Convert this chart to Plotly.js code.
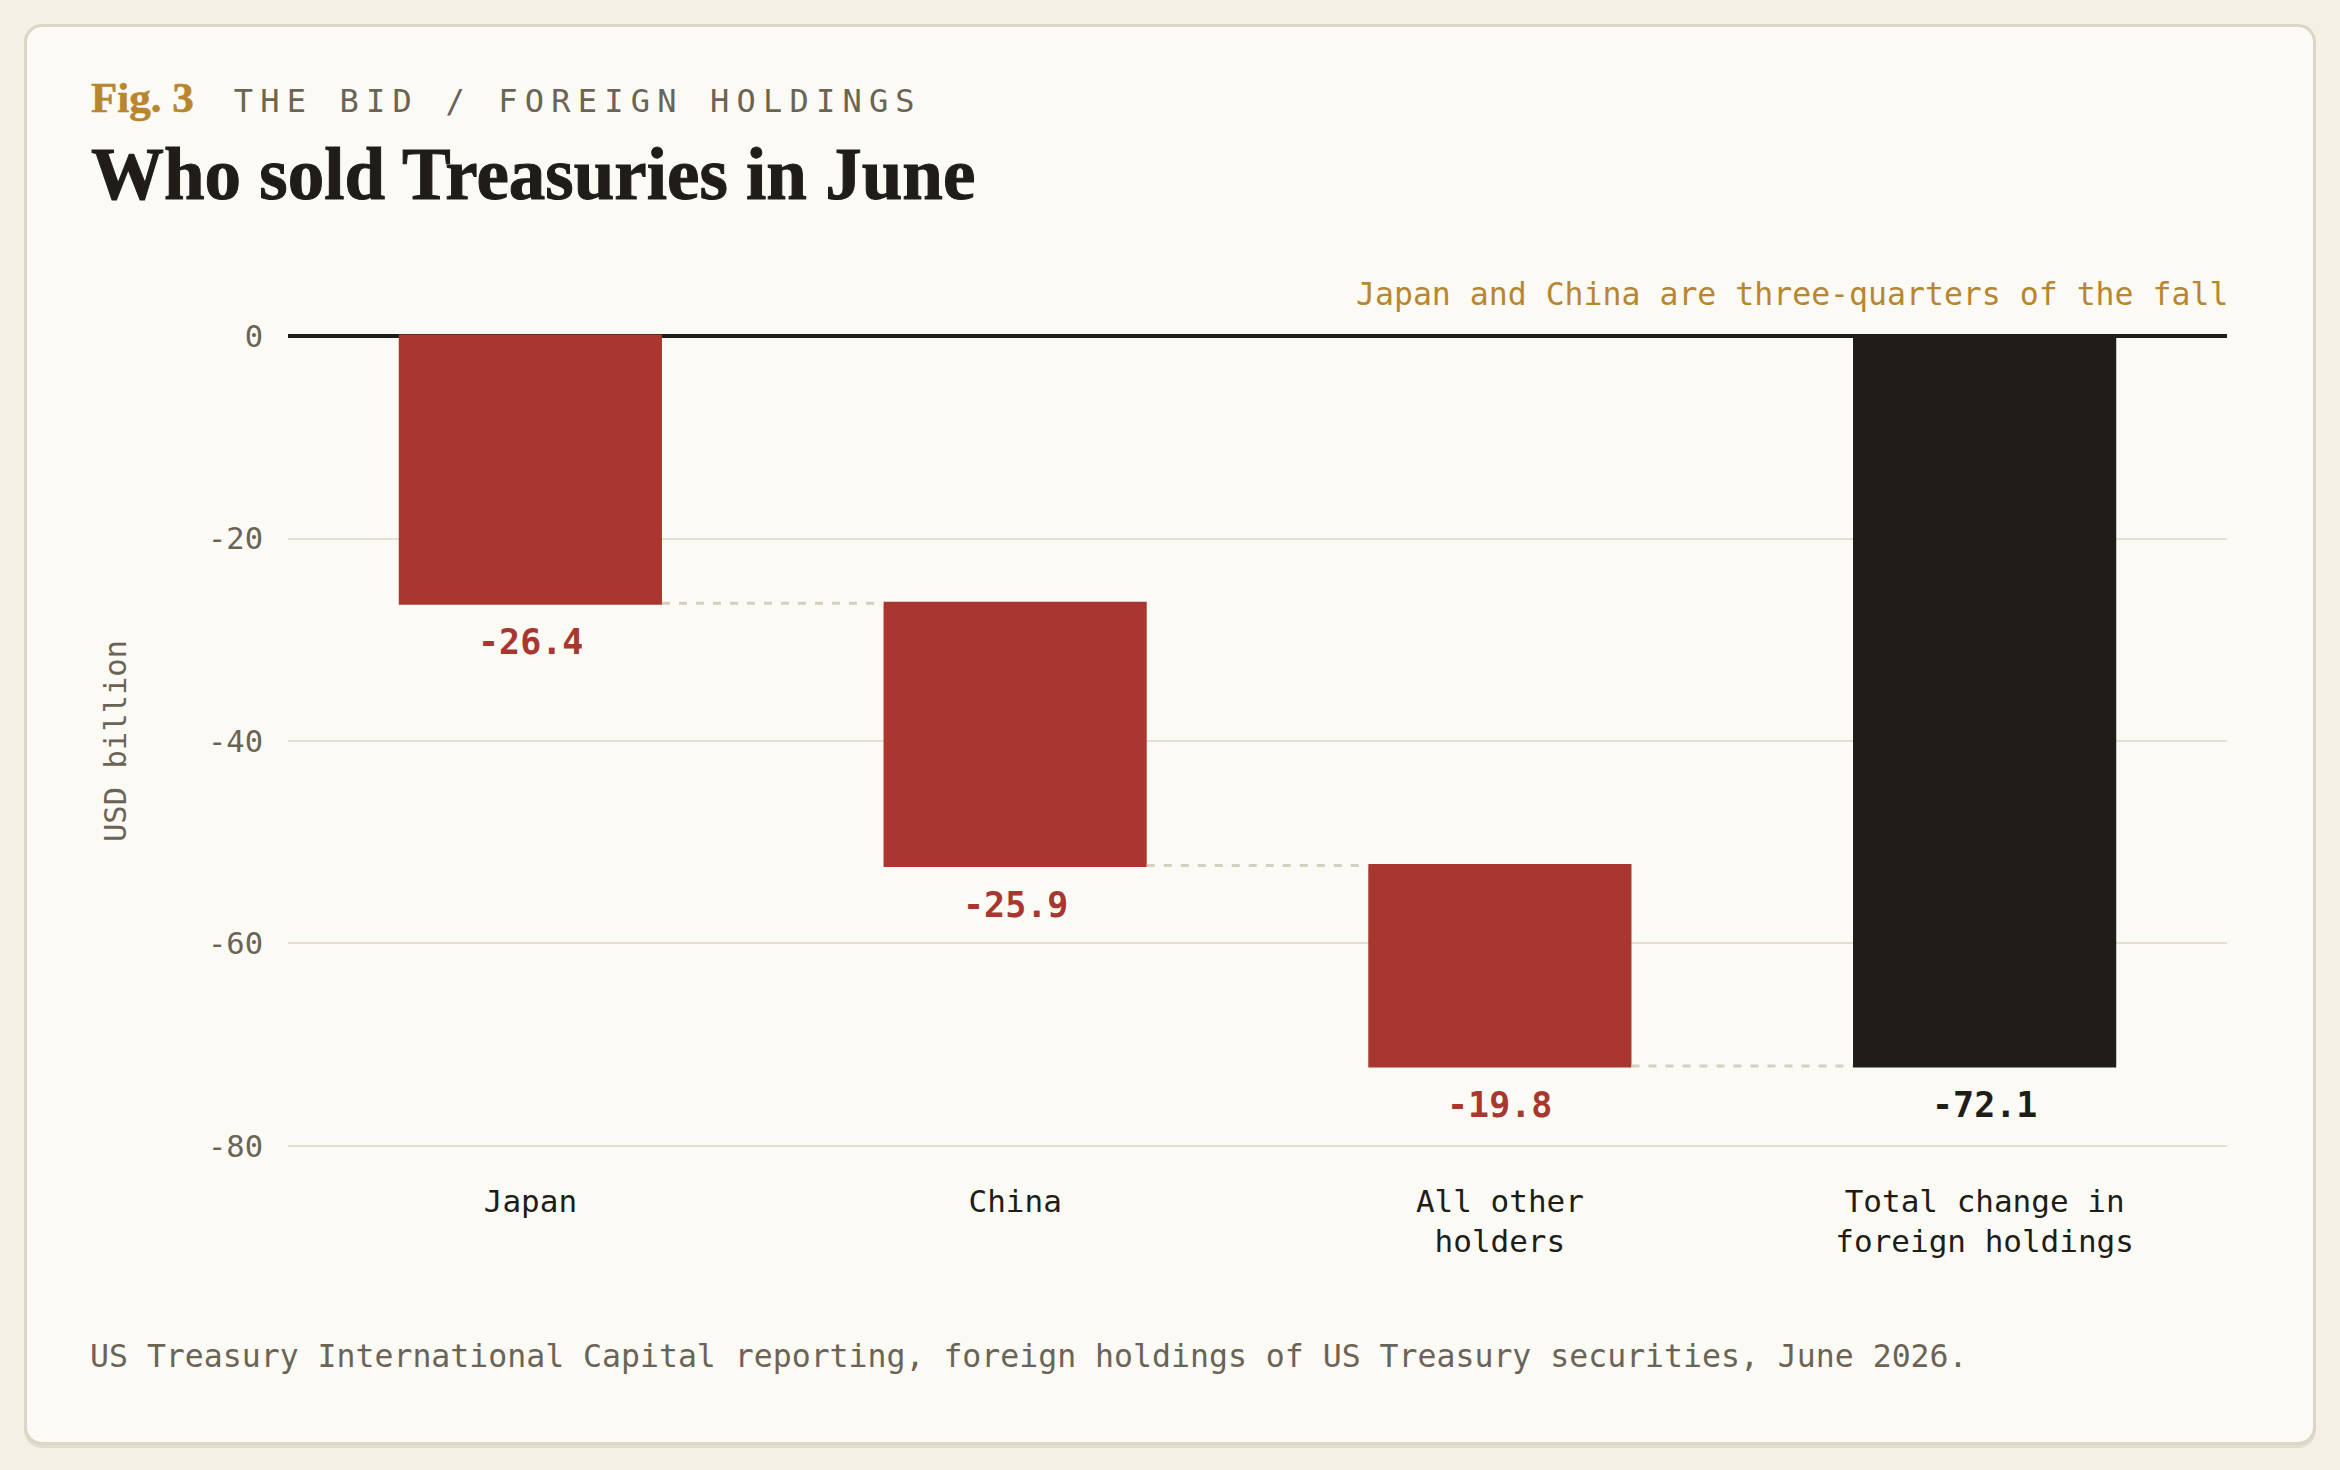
<!DOCTYPE html>
<html>
<head>
<meta charset="utf-8">
<script src="https://cdn.plot.ly/plotly-3.0.1.min.js"></script>
<style>
  html, body { margin: 0; padding: 0; }
  body { width: 2340px; height: 1470px; background: #f4f0e6; position: relative; overflow: hidden; }
  .card {
    position: absolute; left: 24px; top: 24px; width: 2292px; height: 1421px;
    box-sizing: border-box; background: #fbfaf5; border: 3px solid #dcd6c6;
    border-radius: 18px; box-shadow: 0 3px 0 #e2ddcf;
  }
  .kicker {
    position: absolute; left: 91px; top: 76px; display: flex; align-items: baseline;
    line-height: 1; white-space: nowrap;
  }
  .kicker .fig { font-family: "Liberation Serif", serif; font-weight: 700; font-size: 43px; color: #b8862e; margin-right: 40px; -webkit-text-stroke: 0.6px #b8862e; }
  .kicker .sec { font-family: "DejaVu Sans Mono", monospace; font-size: 32px; letter-spacing: 7.2px; color: #6b6456; }
  .title {
    position: absolute; left: 91px; top: 138px; font-family: "Liberation Serif", serif;
    font-weight: 700; font-size: 73px; line-height: 1; color: #201d18; white-space: nowrap;
    -webkit-text-stroke: 1px #201d18;
  }
  .footer {
    position: absolute; left: 90px; top: 1341px; font-family: "DejaVu Sans Mono", monospace;
    font-size: 31.5px; line-height: 1; color: #6b6456; white-space: nowrap;
  }
  #chart { position: absolute; left: 0; top: 0; width: 2340px; height: 1470px; }
</style>
</head>
<body>
<div class="card"></div>
<div class="kicker"><span class="fig">Fig. 3</span><span class="sec">THE BID / FOREIGN HOLDINGS</span></div>
<div class="title">Who sold Treasuries in June</div>
<div class="footer">US Treasury International Capital reporting, foreign holdings of US Treasury securities, June 2026.</div>
<div id="chart"></div>
<script>
// June change in foreign holdings of US Treasuries, USD billion
const holders = ['Japan', 'China', 'All other<br>holders', 'Total change in<br>foreign holdings'];
const changes = [-26.4, -25.9, -19.8, -72.1];
const measures = ['relative', 'relative', 'relative', 'total'];
const yTicks = [0, -20, -40, -60, -80];
const note = 'Japan and China are three-quarters of the fall';

const RED = '#a8382f';
const INK = '#201d18';
const MUTED = '#6b6456';
const MONO = 'DejaVu Sans Mono, monospace';

// where each bar ends, so the value label can sit under it
let running = 0;
const ends = changes.map((v, i) => {
    if (measures[i] === 'total') return running;
    running += v;
    return running;
});

const trace = {
    type: 'waterfall',
    x: holders,
    y: changes,
    measure: measures,
    decreasing: { marker: { color: RED } },
    increasing: { marker: { color: RED } },
    totals: { marker: { color: INK } },
    connector: { mode: 'between', line: { color: '#d5cfc2', width: 3, dash: '8px,9px' } },
    textposition: 'none',
    hoverinfo: 'x+y',
    showlegend: false
};

const labels = changes.map((v, i) => ({
    x: holders[i], y: ends[i], xref: 'x', yref: 'y',
    text: '<b>' + v.toFixed(1) + '</b>',
    showarrow: false, yanchor: 'top', yshift: -17,
    font: { family: MONO, size: 35, color: measures[i] === 'total' ? INK : RED }
}));

labels.push({
    x: 1, y: 1, xref: 'paper', yref: 'paper', xanchor: 'right', yanchor: 'bottom',
    xshift: 3, yshift: 20, text: note, showarrow: false,
    font: { family: MONO, size: 31.5, color: '#b8862e' }
});

const layout = {
    width: 2340, height: 1470,
    paper_bgcolor: 'rgba(0,0,0,0)', plot_bgcolor: 'rgba(0,0,0,0)',
    margin: { l: 288, r: 113, t: 334, b: 322 },
    waterfallgap: 0.457,
    xaxis: {
        type: 'category', ticks: '', showgrid: false, zeroline: false, showline: false,
        ticklabelstandoff: 32,
        tickfont: { family: MONO, size: 31, color: INK }
    },
    yaxis: {
        range: [-80.2, 0.2], tickvals: yTicks, ticktext: yTicks.map(String),
        ticks: '', showline: false, gridcolor: '#e4dfd2', gridwidth: 2,
        zeroline: true, zerolinecolor: INK, zerolinewidth: 4,
        ticklabelstandoff: 24,
        tickfont: { family: MONO, size: 30.5, color: MUTED },
        title: { text: 'USD billion', standoff: 72, font: { family: MONO, size: 30.5, color: MUTED } }
    },
    annotations: labels
};

Plotly.newPlot('chart', [trace], layout, { displayModeBar: false, staticPlot: true });
</script>
</body>
</html>
